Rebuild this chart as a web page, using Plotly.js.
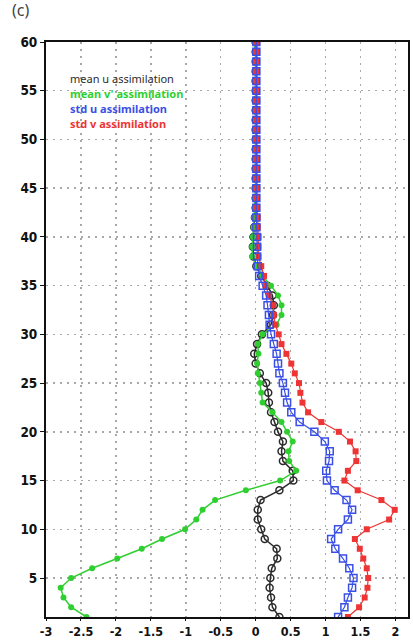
<!DOCTYPE html>
<html>
<head>
<meta charset="utf-8">
<script src="https://cdn.plot.ly/plotly-3.0.1.min.js"></script>
<style>
html,body{margin:0;padding:0;background:#fff;}
#chart{width:413px;height:641px;}
</style>
</head>
<body>
<div id="chart"></div>
<script>
var levels = [1,2,3,4,5,6,7,8,9,10,11,12,13,14,15,16,17,18,19,20,21,22,23,24,25,26,27,28,29,30,31,32,33,34,35,36,37,38,39,40,41,42,43,44,45,46,47,48,49,50,51,52,53,54,55,56,57,58,59,60];

var meanU = [0.34,0.24,0.22,0.20,0.21,0.23,0.31,0.30,0.13,0.08,0.03,0.03,0.07,0.34,0.54,0.53,0.39,0.37,0.39,0.32,0.27,0.22,0.19,0.18,0.15,0.06,0.00,-0.02,0.02,0.09,0.22,0.25,0.26,0.24,0.17,0.08,0.01,-0.03,-0.04,-0.03,-0.02,-0.01,0.00,0.00,0.00,0.00,0.00,0.00,0.00,0.00,0.00,0.00,0.00,0.00,0.00,0.00,0.00,0.00,0.00,0.00];

var meanV = [-2.42,-2.64,-2.75,-2.79,-2.64,-2.34,-1.98,-1.63,-1.34,-1.01,-0.85,-0.76,-0.58,-0.14,0.35,0.58,0.48,0.47,0.53,0.45,0.37,0.24,0.10,0.08,0.06,0.03,0.02,0.04,0.03,0.10,0.30,0.37,0.37,0.32,0.22,0.10,0.01,-0.05,-0.05,-0.04,-0.03,-0.02,-0.01,-0.01,0.00,0.00,0.00,0.00,0.00,0.00,0.00,0.00,0.00,0.00,0.00,0.00,0.00,0.00,0.00,-0.02];

var stdU = [1.18,1.27,1.32,1.38,1.40,1.34,1.25,1.14,1.08,1.18,1.32,1.38,1.30,1.13,1.02,1.01,1.05,1.06,0.99,0.84,0.63,0.51,0.45,0.42,0.39,0.34,0.32,0.30,0.26,0.22,0.20,0.19,0.17,0.15,0.10,0.05,0.03,0.02,0.02,0.02,0.01,0.01,0.01,0.01,0.01,0.01,0.01,0.01,0.01,0.01,0.01,0.01,0.01,0.01,0.01,0.01,0.01,0.01,0.01,0.01];

var stdV = [1.32,1.48,1.56,1.60,1.61,1.59,1.54,1.49,1.42,1.59,1.91,1.99,1.80,1.46,1.27,1.32,1.44,1.43,1.35,1.19,0.94,0.75,0.67,0.64,0.62,0.56,0.51,0.44,0.37,0.33,0.28,0.26,0.25,0.19,0.14,0.12,0.08,0.04,0.04,0.04,0.03,0.03,0.02,0.02,0.02,0.02,0.02,0.02,0.02,0.02,0.02,0.02,0.02,0.02,0.02,0.02,0.02,0.02,0.02,0.02];

var seriesNames = ["mean u assimilation","mean v' assimilation","std u assimilation","std v assimilation"];
var xTicks = [-3,-2.5,-2,-1.5,-1,-0.5,0,0.5,1,1.5,2];
var yTicks = [5,10,15,20,25,30,35,40,45,50,55,60];

var cBlack = "#2b2b2b", cGreen = "#2fcf2f", cBlue = "#3a4fe6", cRed = "#ee3434";

var traces = [
  {x: meanU, y: levels, name: seriesNames[0], mode: "lines+markers", type: "scatter",
   line: {color: cBlack, width: 1.5},
   marker: {symbol: "circle-open", size: 7, color: cBlack, line: {color: cBlack, width: 1.5}}},
  {x: meanV, y: levels, name: seriesNames[1], mode: "lines+markers", type: "scatter",
   line: {color: cGreen, width: 1.5},
   marker: {symbol: "circle", size: 6, color: cGreen}},
  {x: stdV, y: levels, name: seriesNames[3], mode: "lines+markers", type: "scatter",
   line: {color: cRed, width: 1.2},
   marker: {symbol: "square", size: 6, color: cRed}},
  {x: stdU, y: levels, name: seriesNames[2], mode: "lines+markers", type: "scatter",
   line: {color: cBlue, width: 1.2},
   marker: {symbol: "square-open", size: 7, color: cBlue, line: {color: cBlue, width: 1.5}}}
];

var tickFont = {family: "Liberation Sans Narrow, Arial Narrow, DejaVu Sans Condensed, Liberation Sans, sans-serif", size: 12.5, color: "#111", weight: "bold"};
var legFont = {family: "Noto Sans, Open Sans, sans-serif", size: 11};

var layout = {
  width: 413, height: 641,
  margin: {l: 46, r: 5, t: 42, b: 24},
  paper_bgcolor: "#fff", plot_bgcolor: "#fff",
  showlegend: false,
  xaxis: {range: [-3, 2.18], tickvals: xTicks, ticktext: xTicks.map(String),
    showgrid: true, gridcolor: "#a8a8a8", griddash: "2px,5px", gridwidth: 1.5,
    zeroline: false, showline: true, mirror: true, linecolor: "#111", linewidth: 2,
    ticks: "outside", ticklen: 2, tickcolor: "#111", tickfont: tickFont},
  yaxis: {range: [1, 60], tickvals: yTicks,
    showgrid: true, gridcolor: "#a8a8a8", griddash: "2px,5px", gridwidth: 1.5,
    zeroline: false, showline: true, mirror: true, linecolor: "#111", linewidth: 2,
    ticks: "outside", ticklen: 4, tickcolor: "#111", tickfont: {family: tickFont.family, size: 13.5, color: "#111", weight: "bold"}},
  annotations: [
    {text: "(c)", xref: "paper", yref: "paper", x: -0.1, y: 1.055, xanchor: "left", yanchor: "middle",
     showarrow: false, font: {family: "Noto Sans, sans-serif", size: 16, color: "#444"}},
    {text: seriesNames[0], xref: "paper", yref: "paper", x: 0.06, y: 0.937, xanchor: "left", yanchor: "middle",
     showarrow: false, font: {family: legFont.family, size: legFont.size, color: cBlack}},
    {text: "<b>" + seriesNames[1] + "</b>", xref: "paper", yref: "paper", x: 0.06, y: 0.911, xanchor: "left", yanchor: "middle",
     showarrow: false, font: {family: legFont.family, size: legFont.size, color: cGreen}},
    {text: "<b>" + seriesNames[2] + "</b>", xref: "paper", yref: "paper", x: 0.06, y: 0.884, xanchor: "left", yanchor: "middle",
     showarrow: false, font: {family: legFont.family, size: legFont.size, color: cBlue}},
    {text: "<b>" + seriesNames[3] + "</b>", xref: "paper", yref: "paper", x: 0.06, y: 0.858, xanchor: "left", yanchor: "middle",
     showarrow: false, font: {family: legFont.family, size: legFont.size, color: cRed}}
  ]
};

Plotly.newPlot("chart", traces, layout, {displayModeBar: false, staticPlot: true});
</script>
</body>
</html>
